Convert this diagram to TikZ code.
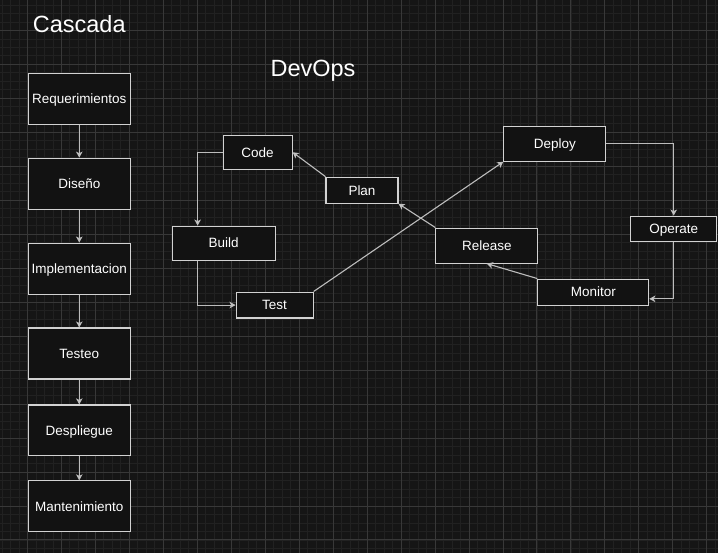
\documentclass[tikz,border=0pt]{standalone}
\usepackage{fontspec}
\setmainfont{Liberation Sans}
\usetikzlibrary{arrows.meta,calc}
\definecolor{bgcol}{HTML}{151515}
\definecolor{minorcol}{HTML}{212121}
\definecolor{majorcol}{HTML}{383838}
\definecolor{boxline}{HTML}{D2D2D2}
\definecolor{boxfill}{HTML}{121212}
\definecolor{arrcol}{HTML}{BDBDBD}

\begin{document}
\begin{tikzpicture}[x=1pt,y=-1pt,
  box/.style={draw=boxline, fill=boxfill, line width=1.1pt, inner sep=0pt, text=white, text height=9.7pt, text depth=0pt, font=\fontsize{13.5}{16}\selectfont},
  title/.style={text=white, inner sep=0pt, anchor=base, font=\fontsize{23.5}{28}\selectfont},
  link/.style={draw=arrcol, line width=1.1pt, -{Stealth[length=6pt,width=6.5pt,inset=1.5pt,fill=white!85!arrcol]}}]
% background and grid:
\fill[bgcol] (0,0) rectangle (718,553);
\foreach \gx in {1.5,10,...,718} \draw[minorcol, line width=0.6pt] (\gx,0) -- (\gx,553);
\foreach \gy in {4.5,13,...,553} \draw[minorcol, line width=0.6pt] (0,\gy) -- (718,\gy);
\foreach \gx in {27,61,...,718} \draw[majorcol, line width=0.7pt] (\gx,0) -- (\gx,553);
\foreach \gy in {30,64,...,553} \draw[majorcol, line width=0.7pt] (0,\gy) -- (718,\gy);
\useasboundingbox (0,0) rectangle (718,553);
% titles:
\node[title] (cascada) at (79,32) {Cascada};
\node[title] (devops) at (313,76) {DevOps};
% waterfall:
\node[box, minimum width=102pt, minimum height=51pt] (req) at (79,98.5) {Requerimientos};
\node[box, minimum width=102pt, minimum height=51pt] (dis) at (79,183.5) {Diseño};
\node[box, minimum width=102pt, minimum height=51pt] (imp) at (79,268.5) {Implementacion};
\node[box, minimum width=102pt, minimum height=51pt] (tst) at (79,353.5) {Testeo};
\node[box, minimum width=102pt, minimum height=51pt] (desp) at (79,430.5) {Despliegue};
\node[box, minimum width=102pt, minimum height=51pt] (mant) at (79,506.5) {Mantenimiento};
\draw[link] (req) -- (dis);
\draw[link] (dis) -- (imp);
\draw[link] (imp) -- (tst);
\draw[link] (tst) -- (desp);
\draw[link] (desp) -- (mant);
% devops loop:
\node[box, minimum width=69pt, minimum height=34pt] (code) at (257.5,152) {Code};
\node[box, minimum width=103pt, minimum height=34pt] (build) at (223.5,243) {Build};
\node[box, minimum width=77pt, minimum height=26pt] (test) at (274.5,305) {Test};
\node[box, minimum width=72pt, minimum height=26pt] (plan) at (362,190) {Plan};
\node[box, minimum width=102pt, minimum height=35pt] (deploy) at (555,143.5) {Deploy};
\node[box, minimum width=86pt, minimum height=25pt] (operate) at (674,228.5) {Operate};
\node[box, minimum width=102pt, minimum height=35pt] (release) at (487,245.5) {Release};
\node[box, minimum width=111pt, minimum height=26pt] (monitor) at (593.5,292) {Monitor};
\draw[link] (plan.north west) -- (code.east);
\draw[link] (code.west) -| ($(build.north west)!0.25!(build.north east)$);
\draw[link] ($(build.south west)!0.25!(build.south east)$) |- (test.west);
\draw[link] (test.north east) -- (deploy.south west);
\draw[link] (deploy.east) -| (operate.north);
\draw[link] (operate.south) |- ($(monitor.north east)!0.75!(monitor.south east)$);
\draw[link] (monitor.north west) -- (release.south);
\draw[link] (release.north west) -- (plan.south east);
\end{tikzpicture}
\end{document}
